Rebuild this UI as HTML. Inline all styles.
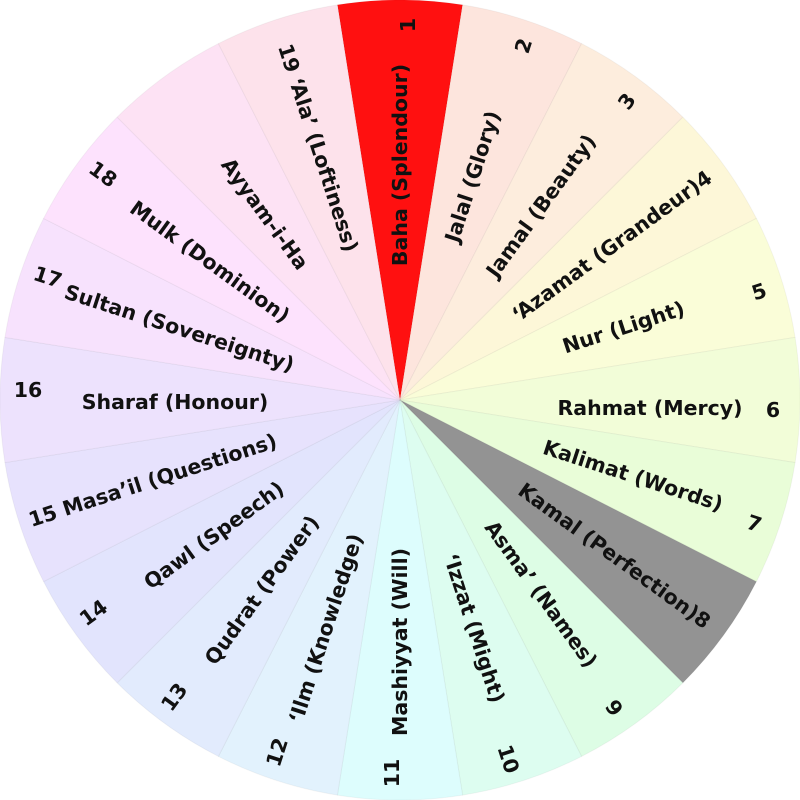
<!DOCTYPE html>
<html><head><meta charset="utf-8"><style>
html,body{margin:0;padding:0;background:#fff;width:800px;height:800px;overflow:hidden}
svg text{font-family:"DejaVu Sans","Liberation Sans",sans-serif;font-weight:bold;font-size:20.5px;fill:#111;dominant-baseline:central}
</style></head><body>
<svg width="800" height="800" viewBox="0 0 800 800">
<defs><path id="w" d="M400 400 L337.43 4.93 A400 400 0 0 1 462.57 4.93 Z"/></defs>
<g stroke="rgba(0,0,0,0.04)" stroke-width="1">
<use href="#w" fill="#ff1010"/>
<use href="#w" fill="hsl(15,90%,93%)" transform="rotate(18 400 400)"/>
<use href="#w" fill="hsl(30,90%,93%)" transform="rotate(36 400 400)"/>
<use href="#w" fill="hsl(50,90%,92%)" transform="rotate(54 400 400)"/>
<use href="#w" fill="hsl(65,90%,92%)" transform="rotate(72 400 400)"/>
<use href="#w" fill="hsl(78,90%,92%)" transform="rotate(90 400 400)"/>
<use href="#w" fill="hsl(92,90%,92%)" transform="rotate(108 400 400)"/>
<use href="#w" fill="#939393" transform="rotate(126 400 400)"/>
<use href="#w" fill="hsl(135,90%,93%)" transform="rotate(144 400 400)"/>
<use href="#w" fill="hsl(155,90%,93%)" transform="rotate(162 400 400)"/>
<use href="#w" fill="hsl(180,90%,93%)" transform="rotate(180 400 400)"/>
<use href="#w" fill="hsl(205,90%,94%)" transform="rotate(198 400 400)"/>
<use href="#w" fill="hsl(220,90%,94%)" transform="rotate(216 400 400)"/>
<use href="#w" fill="hsl(235,90%,94%)" transform="rotate(234 400 400)"/>
<use href="#w" fill="hsl(250,90%,94%)" transform="rotate(252 400 400)"/>
<use href="#w" fill="hsl(265,90%,94%)" transform="rotate(270 400 400)"/>
<use href="#w" fill="hsl(285,90%,94%)" transform="rotate(288 400 400)"/>
<use href="#w" fill="hsl(300,90%,94%)" transform="rotate(306 400 400)"/>
<use href="#w" fill="hsl(320,90%,94%)" transform="rotate(324 400 400)"/>
<use href="#w" fill="hsl(340,90%,94%)" transform="rotate(342 400 400)"/>
</g>
<g text-anchor="middle">
<g transform="rotate(-90 400 400)"><text x="635" y="400">Baha (Splendour)</text><text x="775" y="408">1</text></g>
<g transform="rotate(-72 400 400)"><text x="635" y="400">Jalal (Glory)</text><text x="775" y="408">2</text></g>
<g transform="rotate(-54 400 400)"><text x="640" y="400">Jamal (Beauty)</text><text x="775" y="408">3</text></g>
<g transform="rotate(-36 400 400)"><text x="662" y="400">ʻAzamat (Grandeur)4</text></g>
<g transform="rotate(-18 400 400)"><text x="635" y="400">Nur (Light)</text><text x="775" y="408">5</text></g>
<g transform="rotate(0 400 400)"><text x="650" y="408">Rahmat (Mercy)</text><text x="773" y="410">6</text></g>
<g transform="rotate(18 400 400)"><text x="645" y="400">Kalimat (Words)</text><text x="775" y="408">7</text></g>
<g transform="rotate(36 400 400)"><text x="665" y="400">Kamal (Perfection)8</text></g>
<g transform="rotate(54 400 400)"><text x="640" y="400">Asmaʼ (Names)</text><text x="775" y="408">9</text></g>
<g transform="rotate(72 400 400)"><text x="640" y="400">ʻIzzat (Might)</text><text x="775" y="408">10</text></g>
</g>
<g text-anchor="middle">
<g transform="rotate(270 400 400)"><text x="158" y="400">Mashiyyat (Will)</text><text x="27" y="392">11</text></g>
<g transform="rotate(288 400 400)"><text x="160" y="400">ʻIlm (Knowledge)</text><text x="27" y="392">12</text></g>
<g transform="rotate(306 400 400)"><text x="165" y="400">Qudrat (Power)</text><text x="27" y="392">13</text></g>
<g transform="rotate(324 400 400)"><text x="170" y="400">Qawl (Speech)</text><text x="27" y="392">14</text></g>
<g transform="rotate(342 400 400)"><text x="140" y="400">15 Masaʼil (Questions)</text></g>
<g transform="rotate(360 400 400)"><text x="175" y="402">Sharaf (Honour)</text><text x="28" y="390">16</text></g>
<g transform="rotate(378 400 400)"><text x="168" y="400">Sultan (Sovereignty)</text><text x="27" y="392">17</text></g>
<g transform="rotate(396 400 400)"><text x="165" y="400">Mulk (Dominion)</text><text x="27" y="392">18</text></g>
<g transform="rotate(414 400 400)"><text x="170" y="400">Ayyam-i-Ha</text></g>
<g transform="rotate(432 400 400)"><text x="135" y="400">19 ʻAlaʼ (Loftiness)</text></g>
</g>
</svg>
</body></html>
